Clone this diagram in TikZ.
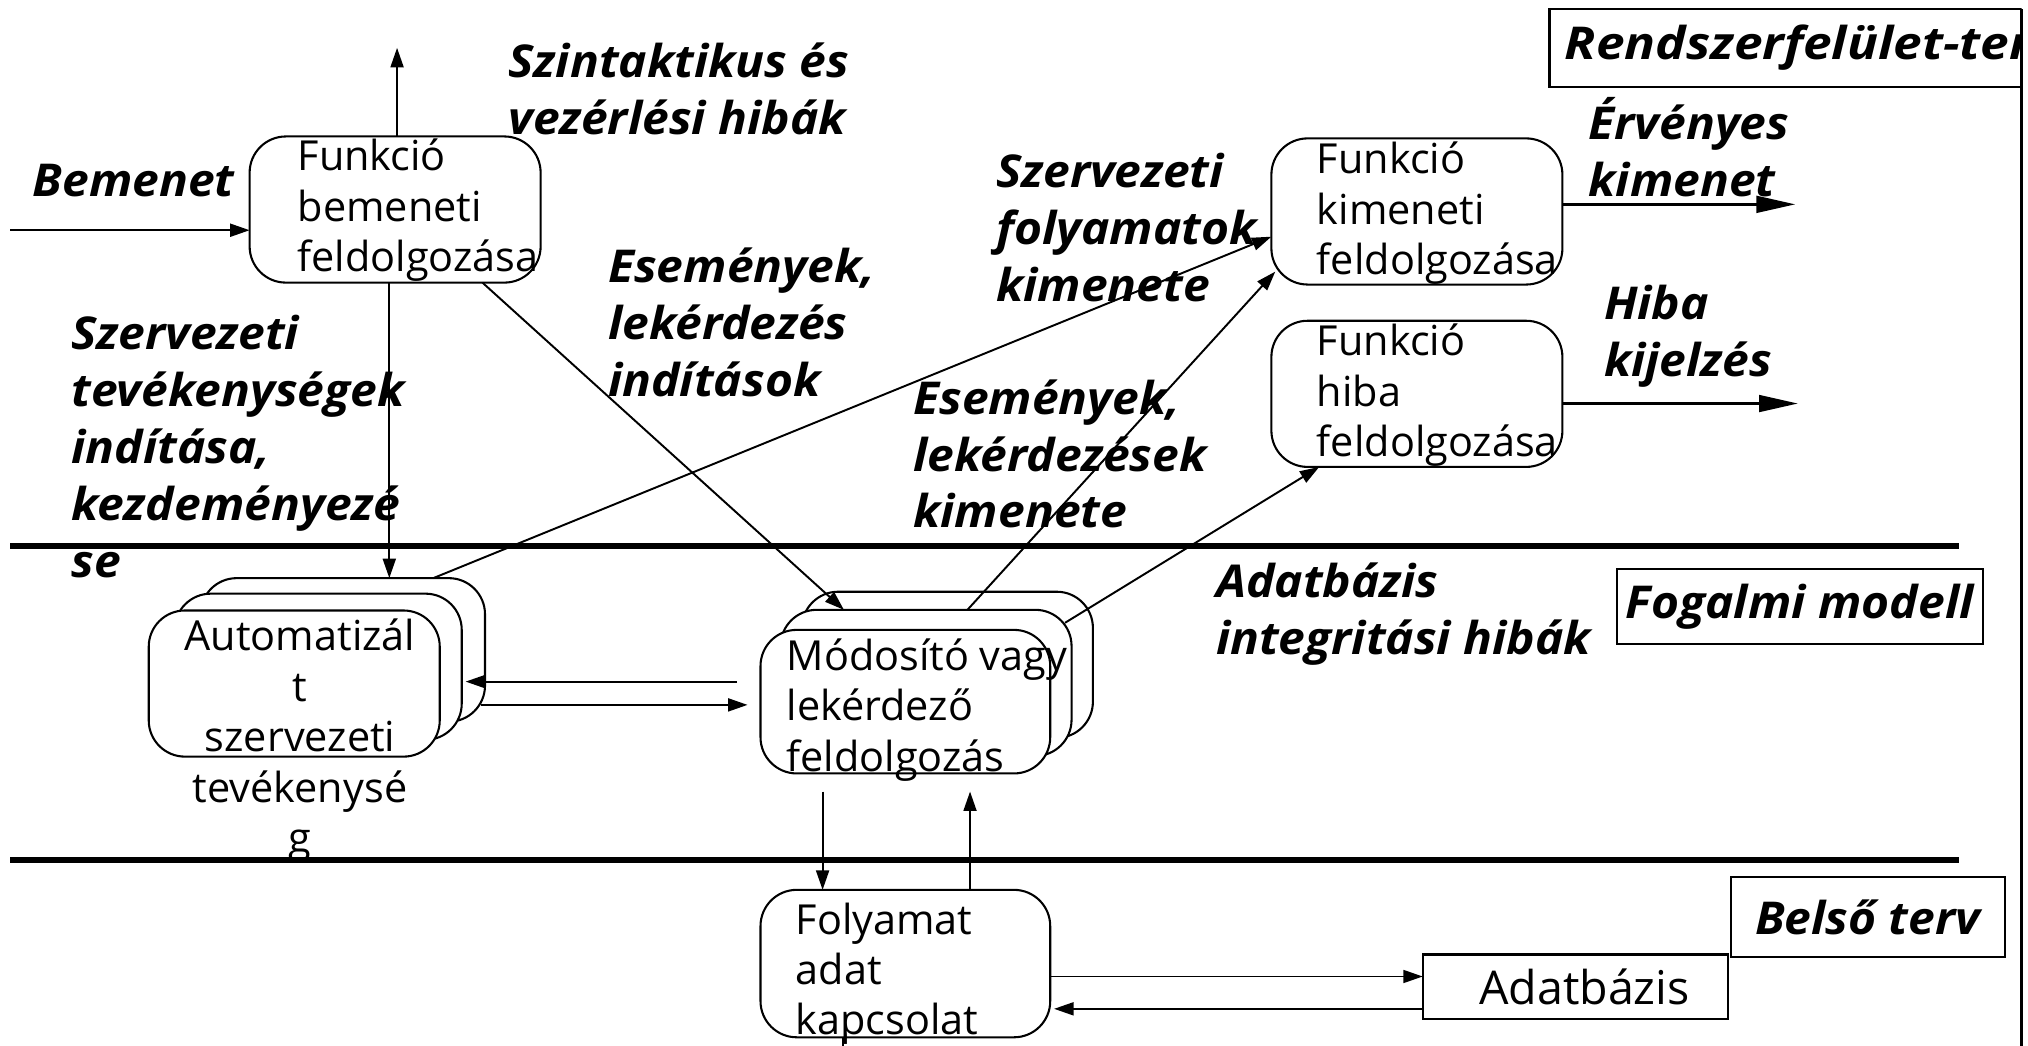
\documentclass[tikz,border=0pt]{standalone}
\usepackage{fontspec}
\usepackage{graphicx}
\setmainfont{Open Sans}
\newfontfamily\lblfam{Open Sans}[FakeStretch=1.06]
\usetikzlibrary{arrows.meta,calc}
\newcommand\mystrut{\rule{0pt}{1em}}
\begin{document}
\begin{tikzpicture}[x=1pt,y=-1pt,
  box/.style={draw,line width=1.6pt,rounded corners=28pt,minimum width=225pt,minimum height=113pt,inner sep=0pt,outer sep=0pt,fill=white},
  sqbox/.style={draw,line width=1.6pt,inner sep=0pt,outer sep=0pt,fill=white},
  btxt/.style={font=\fontsize{32}{39}\selectfont,align=left,anchor=north west,inner sep=0pt},
  lblfont/.style={font=\fontsize{35}{44}\selectfont\lblfam\bfseries\itshape},
  lbl/.style={lblfont,align=left,anchor=north west,inner sep=0pt},
  conn/.style={line width=1.5pt,-{Triangle[length=15pt,width=10pt]}},
  bigconn/.style={line width=1.8pt,-{Triangle[length=30pt,width=13pt]}},
  sepline/.style={line width=4.5pt},
]
\useasboundingbox (0,0) rectangle (1568,808);

% layer separators
\draw[sepline] (8,422) -- (1515,422);
\draw[sepline] (8,665) -- (1515,665);

% top boxes
\node[box] (fbe) at (305.5,162) {};
\node[btxt] (fbet) at (230,100) {\mystrut Funkció\\bemeneti\\feldolgozása};
\node[box] (fkim) at (1095.5,163.5) {};
\node[btxt] (fkimt) at (1018,102) {\mystrut Funkció\\kimeneti\\feldolgozása};
\node[box] (fhib) at (1095.5,304.5) {};
\node[btxt] (fhibt) at (1018,243) {\mystrut Funkció\\hiba\\feldolgozása};

% Automatizalt stack
\node[box,minimum width=220pt,minimum height=111pt] (auto3) at (265,502.5) {};
\node[box,minimum width=222pt] (auto2) at (246,515.5) {};
\node[box] (auto1) at (227.5,528.5) {};
\node[btxt,align=center,anchor=north] (autot) at (232,471) {\mystrut Automatizál\\t\\szervezeti\\tevékenysé\\g};

% Modosito stack
\node[box] (mod3) at (732.5,514) {};
\node[box] (mod2) at (716,528) {};
\node[box,minimum width=224pt,minimum height=111pt] (mod1) at (700,542.5) {};
\node[btxt] (modt) at (608,486) {\mystrut Módosító vagy\\lekérdező\\feldolgozás};

% bottom
\node[box,minimum width=224pt,minimum height=114pt] (fol) at (700,745) {};
\node[btxt] (folt) at (615,690) {\mystrut Folyamat\\adat\\kapcsolat};
\node[sqbox,minimum width=236pt,minimum height=50pt,font=\fontsize{36}{39}\selectfont] (db) at (1218,763) {\hspace*{14pt}Adatbázis};

% layer name boxes
\node[sqbox,minimum width=283pt,minimum height=58pt,lblfont] (fog) at (1391.5,469) {Fogalmi modell};
\node[sqbox,minimum width=212pt,minimum height=62pt,lblfont] (bel) at (1444,709) {Belső terv};
\begin{scope}
\clip (1190,0) rectangle (1563,80);
\node[sqbox,anchor=west,minimum height=60pt,lblfont] (rft) at (1198,37) {\hspace*{12pt}\scalebox{1.07}[1]{Rendszerfelület-terv}\hspace*{30pt}};
\end{scope}
\coordinate (rline) at (1563,812);
\draw[line width=2.5pt] (rline |- rft.north) -- (rline);

% connectors
\coordinate (bin) at (8,178);
\draw[conn] (bin) -- (bin -| fbe.west);
\coordinate (synerr) at (307,37);
\draw[conn] (synerr |- fbe.north) -- (synerr);
\draw[conn] ([xshift=-4.5pt]fbe.south) -- ([xshift=-4.5pt]fbe.south |- auto3.north);
\draw[conn] ([xshift=67.5pt]fbe.south) -- ([xshift=-63.5pt]mod2.north);
\draw[conn] ([xshift=70pt]auto3.north) -- ([yshift=-19.5pt]fkim.west);
\draw[conn] ([xshift=32pt]mod2.north) -- ($(fkim.south west)+(3,-10)$);
\draw[conn] ($(mod2.north east)+(-5,10)$) -- ($(fhib.south west)+(37,0)$);
\draw[conn] ($(mod1.west)+(-18,-15.5)$) -- ($(auto2.east)+(3,11.5)$);
\draw[conn] ($(auto3.east)+(-3,42.5)$) -- ($(mod1.west)+(-10,2.5)$);
\draw[conn] ($(mod1.south)+(-64,14)$) -- ($(fol.north)+(-64,0)$);
\draw[conn] ($(fol.north)+(50,0)$) -- ($(mod1.south)+(50,14)$);
\draw[conn] ($(fol.east)+(0,10)$) -- ($(db.west)+(0,-8)$);
\draw[conn] ($(db.west)+(0,17)$) -- ($(fol.east)+(3,35)$);
\coordinate (folout) at (652,812);
\draw[line width=1.5pt] (folout |- fol.south) -- (folout);
\coordinate (okout) at (1388,158);
\draw[bigconn] (okout -| fkim.east) -- (okout);
\coordinate (errout) at (1390,312);
\draw[bigconn] (errout -| fhib.east) -- (errout);

% labels
\node[lbl,anchor=base west] (lbem) at (25,152) {Bemenet};
\node[lbl] (lsyn) at (393,25) {\mystrut Szintaktikus és\\vezérlési hibák};
\node[lbl] (lszt) at (55,235) {\mystrut Szervezeti\\tevékenységek\\indítása,\\kezdeményezé\\se};
\node[lbl] (lesi) at (470,183) {\mystrut Események,\\lekérdezés\\indítások};
\node[lbl] (lszf) at (770,110) {\mystrut Szervezeti\\folyamatok\\kimenete};
\node[lbl] (lesk) at (706,285) {\mystrut Események,\\lekérdezések\\kimenete};
\node[lbl] (lerv) at (1228,73) {\mystrut Érvényes\\kimenet};
\node[lbl] (lhib) at (1240,212) {\mystrut Hiba\\kijelzés};
\node[lbl] (ladb) at (940,427) {\mystrut Adatbázis\\integritási hibák};
\end{tikzpicture}
\end{document}
